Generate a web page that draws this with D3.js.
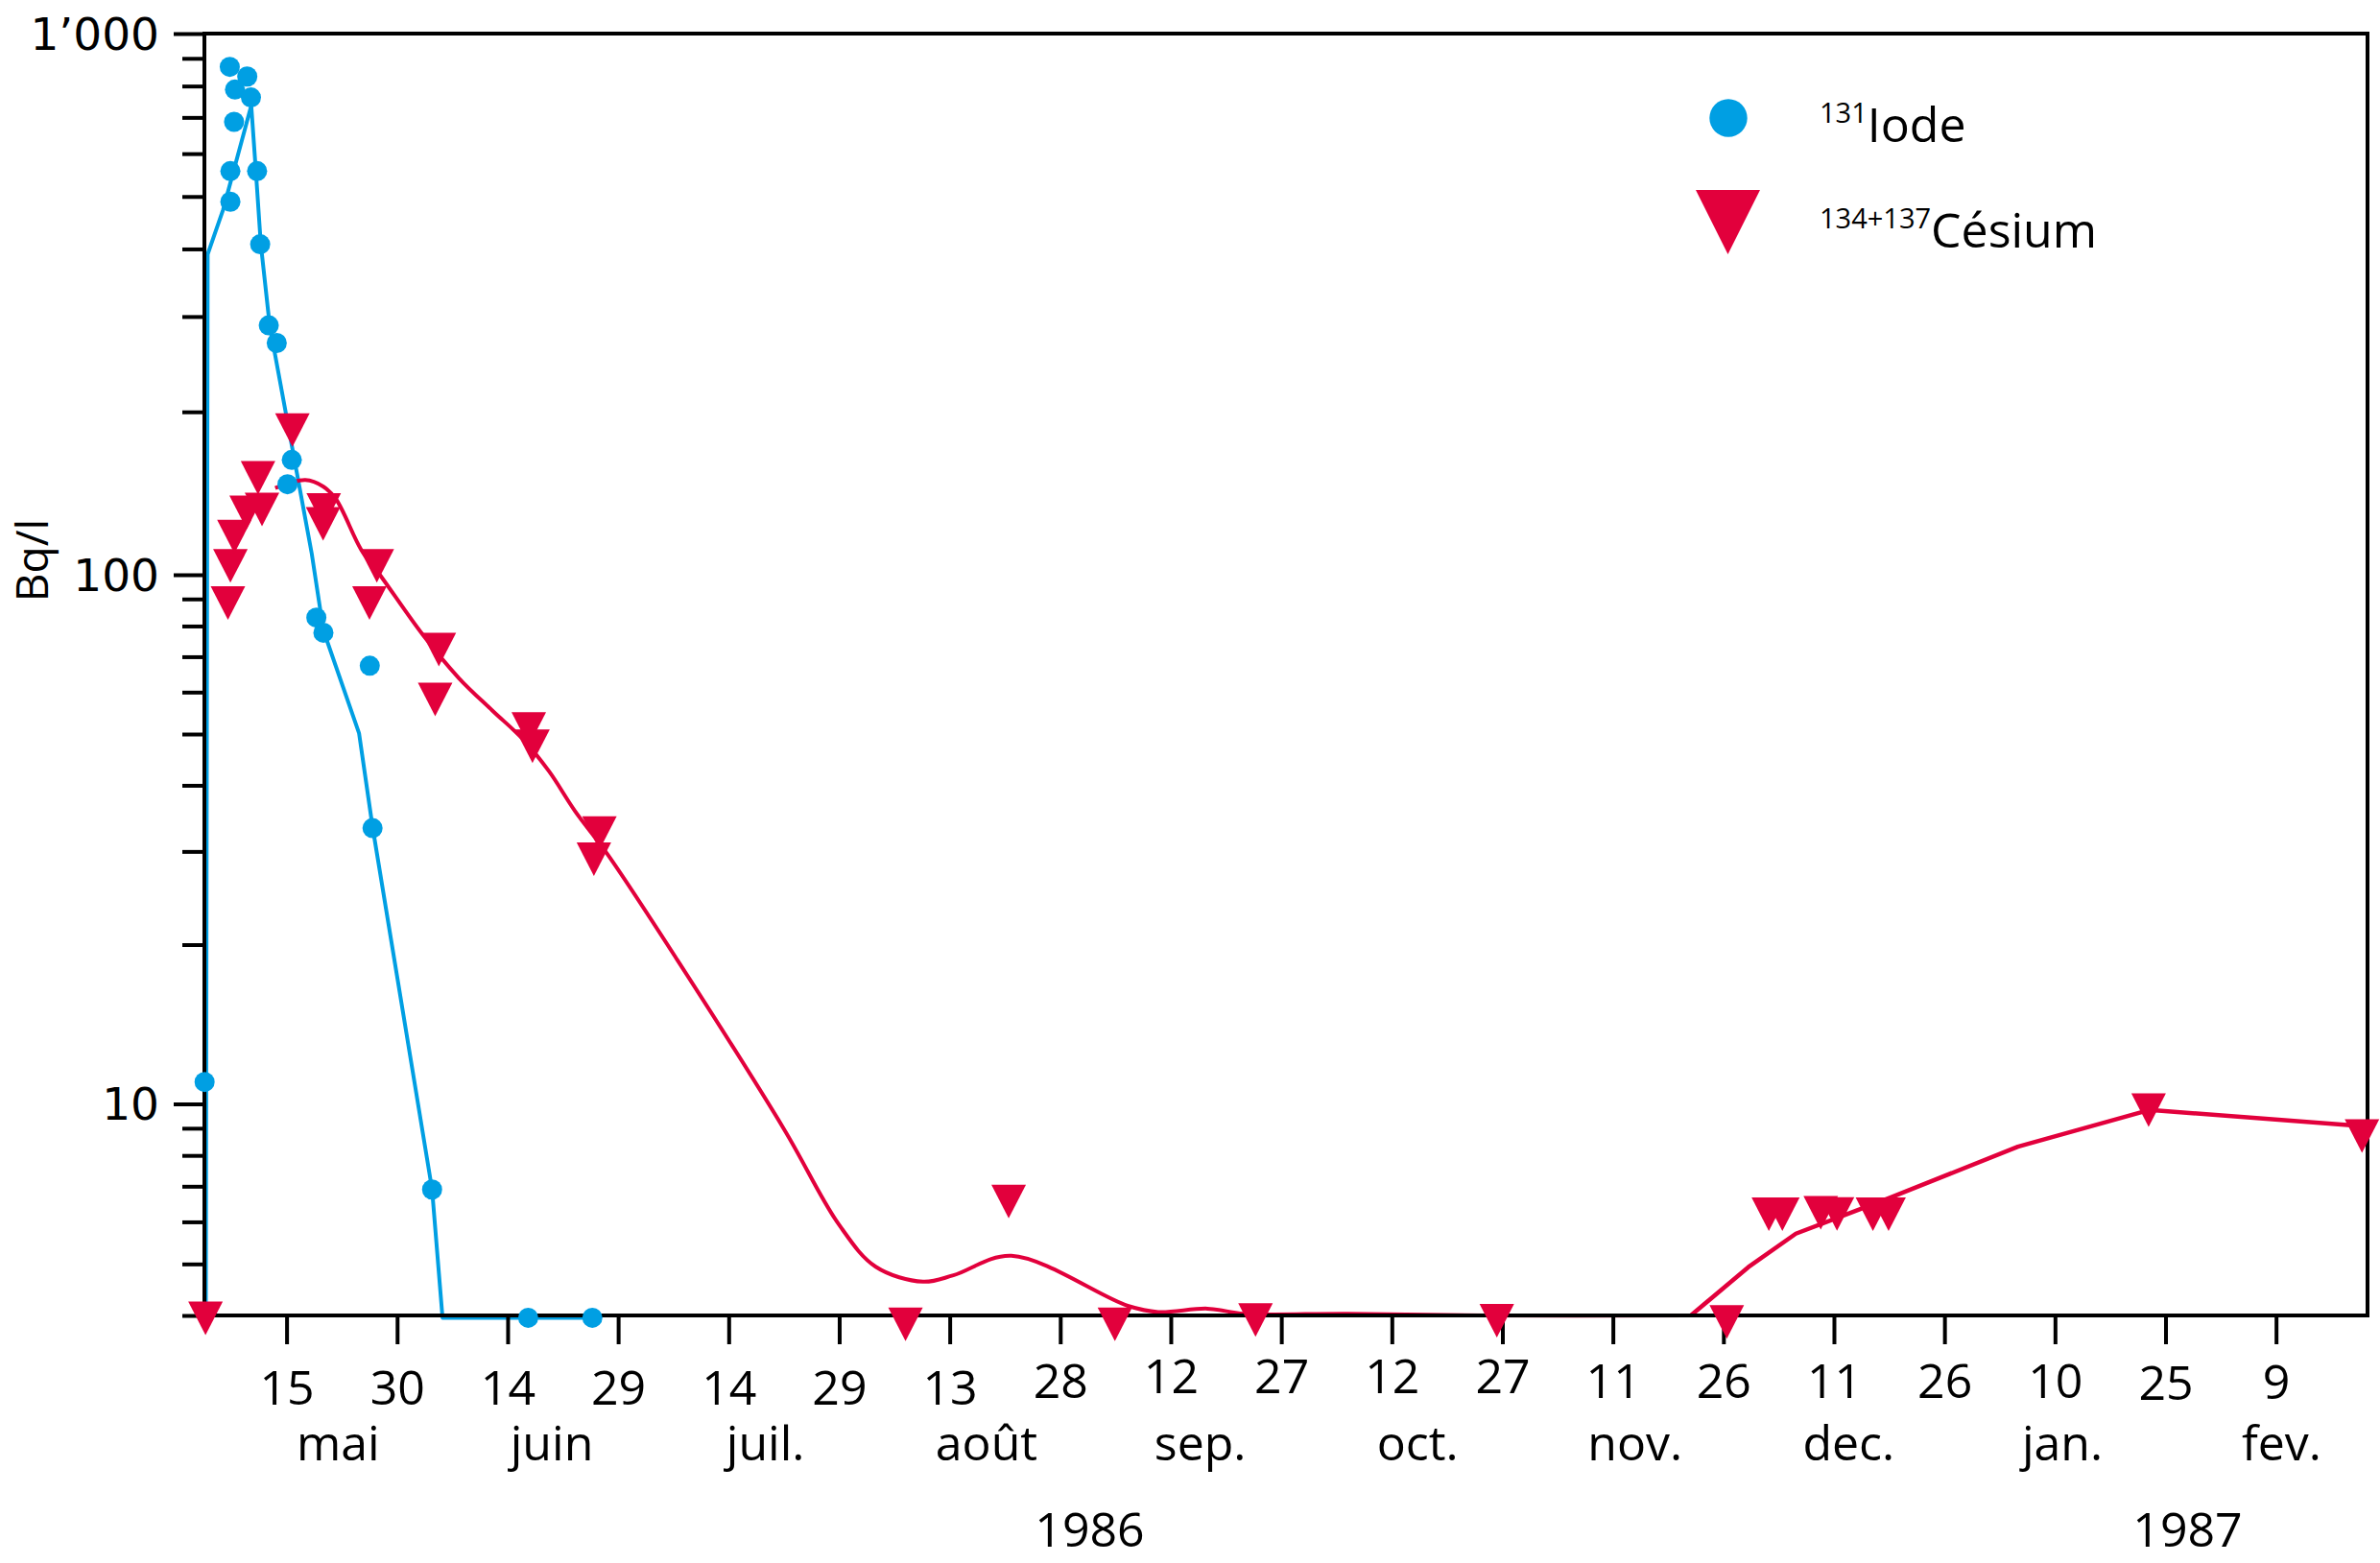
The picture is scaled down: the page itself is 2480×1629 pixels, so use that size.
<!DOCTYPE html>
<html>
<head>
<meta charset="utf-8">
<script src="https://cdn.jsdelivr.net/npm/d3@7"></script>
<style>
  html, body { margin: 0; padding: 0; background: #ffffff; }
  svg { display: block; }
</style>
</head>
<body>
<svg id="chart" width="2480" height="1629"></svg>
<script>
// ---------------- DATA ----------------
// 131 Iode: measured points
const iodeDates = ["1986-05-03T21","1986-05-07T07","1986-05-09T16","1986-05-08T00","1986-05-10T04","1986-05-07T21","1986-05-07T09","1986-05-11T00","1986-05-07T09","1986-05-11T10","1986-05-12T14","1986-05-13T16","1986-05-15T17","1986-05-15T03","1986-05-19T01","1986-05-20T00","1986-05-26T07","1986-05-26T16","1986-06-03T18","1986-06-16T19","1986-06-25T12"];
const iodeValues = [11.0, 868, 833, 788, 762, 687, 557, 557, 489, 408, 289, 268, 163, 147, 83.0, 77.7, 67.3, 33.2, 6.90, 3.96, 3.96];

// 131 Iode: trend line
const iodeLineDates = ["1986-05-04T01","1986-05-04T07","1986-05-06T09","1986-05-10T05","1986-05-10T20","1986-05-11T12","1986-05-12T17","1986-05-18T10","1986-05-20T00","1986-05-24T20","1986-05-26T16","1986-06-03T18","1986-06-05T04","1986-06-26T18"];
const iodeLineValues = [3.96, 391, 472, 736, 557, 409, 289, 109.4, 78.5, 50.2, 33.4, 6.90, 3.96, 3.96];

// 134+137 Césium: measured points
const cesiumDates = ["1986-05-04T00","1986-05-07T01","1986-05-07T09","1986-05-07T22","1986-05-09T14","1986-05-11T16","1986-05-11T03","1986-05-15T19","1986-05-20T01","1986-05-19T23","1986-05-27T06","1986-05-26T06","1986-06-04T16","1986-06-04T04","1986-06-16T21","1986-06-17T09","1986-06-26T11","1986-06-25T17","1986-08-07T00","1986-08-21T00","1986-09-04T10","1986-09-23T12","1986-10-26T06","1986-11-26T11","1986-12-02T04","1986-12-04T00","1986-12-09T05","1986-12-11T10","1986-12-16T07","1986-12-18T10","1987-01-22T17","1987-02-20T16"];
const cesiumValues = [3.95, 88.4, 103.8, 117.6, 130.4, 132, 151, 185, 131.7, 124.2, 103.8, 88.4, 72.2, 58.1, 51.1, 47.4, 32.5, 29.0, 3.85, 6.55, 3.85, 3.92, 3.91, 3.89, 6.20, 6.20, 6.24, 6.21, 6.20, 6.20, 9.73, 8.70];

// 134+137 Césium: trend line
const cesiumLineDates = ["1986-05-13T11","1986-05-17T13","1986-05-19T23","1986-05-21T17","1986-05-25T04","1986-05-27T18","1986-06-02T11","1986-06-07T10","1986-06-11T22","1986-06-16T03","1986-06-19T15","1986-06-23T03","1986-06-27T14","1986-07-07T01","1986-07-21T12","1986-07-29T00","1986-08-02T23","1986-08-09T09","1986-08-13T12","1986-08-21T09","1986-09-06T04","1986-09-10T07","1986-09-16T23","1986-09-21T23","1986-10-06T01","1986-10-25T04","1986-11-21T14","1986-11-29T09","1986-12-05T20","1986-12-18T12","1987-01-04T23","1987-01-22T19","1987-02-21T06"];
const cesiumLineValues = [144.6, 149.6, 145.6, 137.9, 111.0, 99.6, 77.1, 63.7, 55.4, 48.8, 42.5, 35.8, 29.6, 18.7, 8.97, 5.92, 4.94, 4.63, 4.76, 5.18, 4.17, 4.06, 4.12, 4.03, 4.03, 4.0, 4.0, 4.93, 5.70, 6.65, 8.31, 9.74, 9.07];

// Axis ticks and labels
const dayTickDates = ["1986-05-15T00","1986-05-30T00","1986-06-14T00","1986-06-29T00","1986-07-14T00","1986-07-29T00","1986-08-13T00","1986-08-28T00","1986-09-12T00","1986-09-27T00","1986-10-12T00","1986-10-27T00","1986-11-11T00","1986-11-26T00","1986-12-11T00","1986-12-26T00","1987-01-10T00","1987-01-25T00","1987-02-09T00"];
const dayTickLabels = ["15","30","14","29","14","29","13","28","12","27","12","27","11","26","11","26","10","25","9"];
const monthLabels = ["mai","juin","juil.","août","sep.","oct.","nov.","dec.","jan.","fev."];
const monthLabelDates = ["1986-05-22T00","1986-06-20T00","1986-07-19T00","1986-08-18T00","1986-09-16T00","1986-10-15T12","1986-11-14T00","1986-12-13T00","1987-01-11T00","1987-02-09T18"];
const yearLabels = ["1986","1987"];
const yearLabelDates = ["1986-09-01T00","1987-01-28T00"];
const yMinorTicks = [4,5,6,7,8,9,20,30,40,50,60,70,80,90,200,300,400,500,600,700,800,900];
const yMajorTicks = [10,100,1000];
const yTickLabels = ["10","100","1’000"];
const yTitle = "Bq/l";
const legendLabels = [{sup:"131", main:"Iode"}, {sup:"134+137", main:"Césium"}];

// ---------------- STYLE / LAYOUT ----------------
const BLUE = "#009FE3";
const RED = "#E2003C";
const FONT = "'Open Sans', 'Noto Sans', sans-serif";
const dayLabelNudge = [0,0,0,0,0,0,0,-7,-12,-12,-12,-12,-7,-7,-7,-7,-7,-5,-6];
const cesiumSmoothUntil = "1986-11-21T14"; // smoothed part ends here, then straight segments

const pL = 213, pR = 2467, pT = 35, pB = 1371;
const parse = d3.utcParse("%Y-%m-%dT%H");

const x = d3.scaleUtc()
  .domain([new Date(Date.UTC(1986,4,3,20,24)), new Date(Date.UTC(1987,1,21,10))])
  .range([pL, pR]);
const y = d3.scaleLog()
  .domain([4, 10, 100, 1000])
  .range([pB, 1150.5, 599, pT]);

const svg = d3.select("#chart");
svg.append("rect").attr("width", 2480).attr("height", 1629).attr("fill", "#fff");

// ---------------- LINES (under axes) ----------------
const iodeLine = iodeLineDates.map((d, i) => ({date: parse(d), v: iodeLineValues[i]}));
const cesLine = cesiumLineDates.map((d, i) => ({date: parse(d), v: cesiumLineValues[i]}));

svg.append("path")
  .datum(iodeLine)
  .attr("fill", "none").attr("stroke", BLUE).attr("stroke-width", 4)
  .attr("stroke-linejoin", "round")
  .attr("d", d3.line().x(d => x(d.date)).y(d => y(d.v)).curve(d3.curveLinear));

const k = cesiumLineDates.indexOf(cesiumSmoothUntil);
svg.append("path")
  .datum(cesLine.slice(0, k + 1))
  .attr("fill", "none").attr("stroke", RED).attr("stroke-width", 4)
  .attr("stroke-linejoin", "round")
  .attr("d", d3.line().x(d => x(d.date)).y(d => y(d.v)).curve(d3.curveCatmullRom.alpha(0.5)));
svg.append("path")
  .datum(cesLine.slice(k))
  .attr("fill", "none").attr("stroke", RED).attr("stroke-width", 4.5)
  .attr("stroke-linejoin", "round")
  .attr("d", d3.line().x(d => x(d.date)).y(d => y(d.v)).curve(d3.curveLinear));

// ---------------- AXES ----------------
const g = svg.append("g");
g.append("rect")
  .attr("x", pL).attr("y", pT).attr("width", pR - pL).attr("height", pB - pT)
  .attr("fill", "none").attr("stroke", "#000").attr("stroke-width", 4);

const xAxis = d3.axisBottom(x)
  .tickValues(dayTickDates.map(parse))
  .tickSize(30)
  .tickFormat((d, i) => dayTickLabels[i]);
const gx = g.append("g").attr("transform", `translate(0,${pB})`).call(xAxis);
gx.select(".domain").remove();
gx.selectAll(".tick line").attr("stroke", "#000").attr("stroke-width", 4);
gx.selectAll(".tick text")
  .attr("font-family", FONT).attr("font-size", 50).attr("fill", "#000")
  .attr("dy", null)
  .attr("y", (d, i) => 93 + dayLabelNudge[i]);

g.selectAll("text.month")
  .data(monthLabels)
  .join("text")
  .attr("class", "month")
  .attr("x", (d, i) => x(parse(monthLabelDates[i])))
  .attr("y", 1522)
  .attr("text-anchor", "middle")
  .attr("font-family", FONT).attr("font-size", 50).attr("fill", "#000")
  .text(d => d);

g.selectAll("text.year")
  .data(yearLabels)
  .join("text")
  .attr("class", "year")
  .attr("x", (d, i) => x(parse(yearLabelDates[i])))
  .attr("y", 1612)
  .attr("text-anchor", "middle")
  .attr("font-family", FONT).attr("font-size", 50).attr("fill", "#000")
  .text(d => d);

const yMinor = d3.axisLeft(y).tickValues(yMinorTicks).tickSize(23).tickFormat("");
const gyMinor = g.append("g").attr("transform", `translate(${pL},0)`).call(yMinor);
gyMinor.select(".domain").remove();
gyMinor.selectAll(".tick line").attr("stroke", "#000").attr("stroke-width", 4);

const yMajor = d3.axisLeft(y).tickValues(yMajorTicks).tickSize(32)
  .tickFormat((d, i) => yTickLabels[i]);
const gyMajor = g.append("g").attr("transform", `translate(${pL},0)`).call(yMajor);
gyMajor.select(".domain").remove();
gyMajor.selectAll(".tick line").attr("stroke", "#000").attr("stroke-width", 4);
gyMajor.selectAll(".tick text")
  .attr("font-family", "'DejaVu Sans', sans-serif").attr("font-size", 47).attr("fill", "#000")
  .attr("x", -47).attr("dy", null).attr("y", 16);

g.append("text")
  .attr("transform", "translate(50,584) rotate(-90)")
  .attr("text-anchor", "middle")
  .attr("font-family", FONT).attr("font-size", 46).attr("fill", "#000")
  .text(yTitle);

// ---------------- MARKERS ----------------
const iodePts = iodeDates.map((d, i) => ({date: parse(d), v: iodeValues[i]}));
const cesPts = cesiumDates.map((d, i) => ({date: parse(d), v: cesiumValues[i]}));

svg.append("g").selectAll("circle")
  .data(iodePts)
  .join("circle")
  .attr("cx", d => x(d.date)).attr("cy", d => y(d.v))
  .attr("r", 10.5).attr("fill", BLUE);

const tri = (w, h) => `M${-w/2},${-h/2}L${w/2},${-h/2}L0,${h/2}Z`;
svg.append("g").selectAll("path")
  .data(cesPts)
  .join("path")
  .attr("transform", d => `translate(${x(d.date)},${y(d.v)})`)
  .attr("d", tri(36, 35))
  .attr("fill", RED);

// ---------------- LEGEND ----------------
const leg = svg.append("g");
leg.append("circle").attr("cx", 1801).attr("cy", 123).attr("r", 19.7).attr("fill", BLUE);
leg.append("path").attr("transform", "translate(1800.5,231.5)").attr("d", tri(67, 67)).attr("fill", RED);

const legY = [148, 258];
legendLabels.forEach((l, i) => {
  const t = leg.append("text")
    .attr("x", 1896).attr("y", legY[i])
    .attr("font-family", FONT).attr("fill", "#000");
  t.append("tspan").attr("font-size", 29).attr("dy", -20).text(l.sup);
  t.append("tspan").attr("font-size", 50).attr("dy", 20).text(l.main);
});
</script>
</body>
</html>
